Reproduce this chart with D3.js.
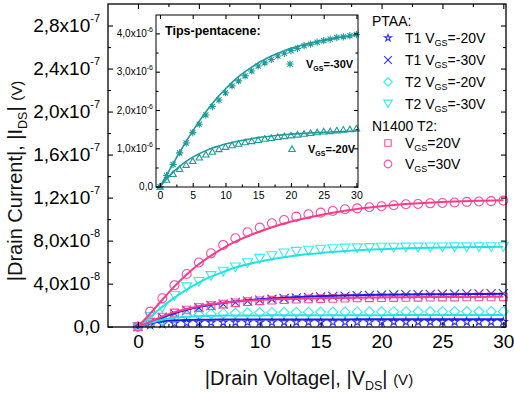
<!DOCTYPE html>
<html>
<head>
<meta charset="utf-8">
<script src="https://cdn.jsdelivr.net/npm/d3@7"></script>
<style>
  body { margin: 0; background: #fff; }
  svg { display: block; font-family: "Liberation Sans", Arial, sans-serif; }
</style>
</head>
<body>
<svg id="chart" width="514" height="396"></svg>
<script>
(() => {
  /* ---------- DATA (main: units of 1e-8 A, inset: units of 1e-6 A) ---------- */

  const VDS = [0, 1, 2, 3, 4, 5, 6, 7, 8, 9, 10, 11, 12, 13, 14, 15, 16, 17, 18, 19, 20,
    21, 22, 23, 24, 25, 26, 27, 28, 29, 30];

  const ptaaT1_20 = [0, 0.15, 0.25, 0.32, 0.36, 0.38, 0.39, 0.4, 0.4, 0.41, 0.41, 0.41, 0.42,
    0.42, 0.42, 0.42, 0.43, 0.43, 0.43, 0.43, 0.43, 0.44, 0.44, 0.44, 0.44, 0.44, 0.45, 0.45,
    0.45, 0.45, 0.45];
  const ptaaT1_30 = [0, 0.4, 0.87, 1.22, 1.52, 1.76, 1.95, 2.1, 2.25, 2.37, 2.47, 2.55, 2.62,
    2.68, 2.73, 2.78, 2.82, 2.85, 2.88, 2.91, 2.93, 2.95, 2.97, 2.99, 3.0, 3.02, 3.03, 3.05,
    3.06, 3.07, 3.08];
  const ptaaT2_20 = [0, 0.3, 0.6, 0.85, 1.0, 1.1, 1.18, 1.23, 1.27, 1.29, 1.31, 1.32, 1.33,
    1.34, 1.35, 1.36, 1.36, 1.37, 1.37, 1.38, 1.38, 1.39, 1.39, 1.4, 1.4, 1.4, 1.41, 1.41,
    1.41, 1.42, 1.42];
  const ptaaT2_30 = [0, 0.95, 1.8, 2.9, 3.7, 4.2, 4.75, 5.15, 5.55, 5.95, 6.35, 6.6, 6.85,
    7.0, 7.1, 7.2, 7.25, 7.3, 7.33, 7.35, 7.38, 7.39, 7.4, 7.4, 7.41, 7.41, 7.42, 7.42, 7.42,
    7.43, 7.43];
  const n1400_20 = [0, 0.42, 0.9, 1.28, 1.55, 1.78, 1.95, 2.1, 2.22, 2.32, 2.4, 2.46, 2.51,
    2.55, 2.58, 2.61, 2.63, 2.65, 2.67, 2.68, 2.7, 2.71, 2.72, 2.73, 2.74, 2.75, 2.75, 2.76,
    2.77, 2.77, 2.78];
  const n1400_30 = [0, 1.4, 2.64, 3.85, 4.9, 5.97, 6.82, 7.6, 8.22, 8.78, 9.21, 9.62, 9.92,
    10.23, 10.45, 10.6, 10.76, 10.92, 11.0, 11.1, 11.2, 11.29, 11.38, 11.41, 11.47, 11.5,
    11.55, 11.6, 11.64, 11.67, 11.72];

  // fitted curves
  const FIT_V = [0, 1, 2, 3, 4, 5, 6, 7, 8, 10, 12, 14, 16, 18, 20, 22, 25, 28, 30];
  const fitT1_20 = [0, 0.3, 0.5, 0.58, 0.62, 0.64, 0.65, 0.66, 0.66, 0.67, 0.67, 0.67, 0.67,
    0.68, 0.68, 0.68, 0.68, 0.68, 0.68];
  const fitT1_30 = [0, 0.4, 0.85, 1.25, 1.57, 1.83, 2.03, 2.2, 2.34, 2.55, 2.7, 2.8, 2.88,
    2.93, 2.97, 3.0, 3.02, 3.04, 3.05];
  const fitT2_20 = [0, 0.35, 0.65, 0.83, 0.93, 0.98, 1.01, 1.03, 1.04, 1.05, 1.06, 1.06,
    1.07, 1.07, 1.07, 1.08, 1.08, 1.08, 1.08];
  const fitT2_30 = [0, 0.9, 1.85, 2.7, 3.45, 4.1, 4.65, 5.1, 5.5, 6.05, 6.45, 6.75, 6.95,
    7.1, 7.2, 7.28, 7.35, 7.4, 7.42];
  const fitN_20 = [0, 0.45, 0.95, 1.35, 1.65, 1.9, 2.08, 2.22, 2.33, 2.48, 2.57, 2.63, 2.67,
    2.7, 2.72, 2.74, 2.76, 2.77, 2.78];
  const fitN_30 = [0, 1.2, 2.5, 3.75, 4.85, 5.8, 6.6, 7.3, 7.9, 8.85, 9.6, 10.15, 10.6,
    10.95, 11.2, 11.4, 11.6, 11.7, 11.75];

  // inset: Tips-pentacene
  const tips30 = [0, 0.29, 0.58, 0.88, 1.14, 1.41, 1.63, 1.87, 2.09, 2.26, 2.45, 2.63, 2.76,
    2.89, 3.02, 3.15, 3.23, 3.32, 3.41, 3.48, 3.55, 3.61, 3.68, 3.72, 3.77, 3.81, 3.85, 3.89,
    3.91, 3.94, 3.97];
  const tips20 = [0, 0.18, 0.33, 0.46, 0.57, 0.67, 0.76, 0.84, 0.91, 0.98, 1.04, 1.08, 1.12,
    1.16, 1.19, 1.22, 1.25, 1.27, 1.3, 1.32, 1.34, 1.36, 1.38, 1.4, 1.42, 1.44, 1.45, 1.47,
    1.49, 1.5, 1.52];
  const INSET_FIT_V = [0, 1, 2, 3, 4, 5, 6, 7, 8, 9, 10, 11, 12, 13, 14, 15, 16, 17, 18, 19,
    20, 22, 24, 26, 28, 30];
  const fitTips30 = [0, 0.3, 0.6, 0.9, 1.18, 1.45, 1.71, 1.95, 2.17, 2.37, 2.55, 2.72, 2.87,
    3.0, 3.12, 3.23, 3.32, 3.41, 3.48, 3.55, 3.61, 3.71, 3.79, 3.85, 3.91, 3.96];
  const fitTips20 = [0, 0.2, 0.38, 0.53, 0.66, 0.77, 0.86, 0.94, 1.01, 1.06, 1.11, 1.15, 1.19,
    1.22, 1.25, 1.28, 1.3, 1.32, 1.34, 1.355, 1.37, 1.39, 1.41, 1.425, 1.44, 1.45];

  // ticks
  const X_TICKS = [0, 5, 10, 15, 20, 25, 30];
  const X_MINOR = [2.5, 7.5, 12.5, 17.5, 22.5, 27.5];
  const Y_TICKS = [0, 4, 8, 12, 16, 20, 24, 28];
  const Y_MINOR = [2, 6, 10, 14, 18, 22, 26];
  const Y_TICK_MANT = ["0,0", "4,0x10", "8,0x10", "1,2x10", "1,6x10", "2,0x10", "2,4x10", "2,8x10"];
  const Y_TICK_EXP = ["", "-8", "-8", "-7", "-7", "-7", "-7", "-7"];
  const IY_TICKS = [0, 1, 2, 3, 4];
  const IY_MINOR = [0.5, 1.5, 2.5, 3.5];
  const IY_TICK_MANT = ["0,0", "1,0x10", "2,0x10", "3,0x10", "4,0x10"];
  const IY_TICK_EXP = ["", "-6", "-6", "-6", "-6"];

  /* ---------- SETUP ---------- */

  const svg = d3.select("#chart");
  const M = { left: 108, right: 506, top: 4, bottom: 327 };
  const I = { left: 156, right: 358, top: 15, bottom: 187 };

  const BLUE = "#2f2fff", BLUE_LINE = "#1c1ce0";
  const CYAN = "#33f0f0", CYAN_LINE = "#25e2e2";
  const PINK = "#ff4c9c", PINK_LINE = "#ff3a8a";
  const TEAL = "#1f9b9b";

  const x = d3.scaleLinear().domain([-2.46, 30.22]).range([M.left, M.right]);
  const y = d3.scaleLinear().domain([-0.03, 30.0]).range([M.bottom, M.top]);
  const xi = d3.scaleLinear().domain([-0.61, 30.24]).range([I.left, I.right]);
  const yi = d3.scaleLinear().domain([-0.01, 4.48]).range([I.bottom, I.top]);

  /* ---------- MARKERS ---------- */

  function markerPath(type, r) {
    switch (type) {
      case "star": return d3.symbol(d3.symbolStar, r * r / 0.89)();
      case "x": return `M${-r},${-r}L${r},${r}M${r},${-r}L${-r},${r}`;
      case "diamond": return `M0,${-r}L${r},0L0,${r}L${-r},0Z`;
      case "tridown": return `M${-r},${-r * 0.8}L${r},${-r * 0.8}L0,${r * 0.95}Z`;
      case "triup": return `M${-r},${r * 0.8}L${r},${r * 0.8}L0,${-r * 0.95}Z`;
      case "square": return `M${-r},${-r}H${r}V${r}H${-r}Z`;
      case "circle": return d3.symbol(d3.symbolCircle, Math.PI * r * r)();
      case "asterisk": {
        const d = r * 0.72;
        return `M${-r},0H${r}M0,${-r}V${r}M${-d},${-d}L${d},${d}M${d},${-d}L${-d},${d}`;
      }
    }
  }

  const series = [
    { vals: ptaaT1_20, fit: fitT1_20, type: "star", r: 4.2, color: BLUE, line: BLUE_LINE },
    { vals: ptaaT1_30, fit: fitT1_30, type: "x", r: 4.5, color: BLUE, line: BLUE_LINE },
    { vals: ptaaT2_20, fit: fitT2_20, type: "diamond", r: 5, color: CYAN, line: CYAN_LINE },
    { vals: ptaaT2_30, fit: fitT2_30, type: "tridown", r: 5, color: CYAN, line: CYAN_LINE },
    { vals: n1400_20, fit: fitN_20, type: "square", r: 3.8, color: PINK, line: PINK_LINE },
    { vals: n1400_30, fit: fitN_30, type: "circle", r: 4.5, color: PINK, line: PINK_LINE }
  ];

  /* ---------- MAIN DATA ---------- */

  const lineMain = d3.line()
    .x((d, i) => x(FIT_V[i]))
    .y(d => y(d))
    .curve(d3.curveMonotoneX);

  const plot = svg.append("g");

  series.forEach(s => {
    plot.append("g")
      .selectAll("path")
      .data(s.vals)
      .join("path")
      .attr("transform", (d, i) => `translate(${x(VDS[i])},${y(d)})`)
      .attr("d", markerPath(s.type, s.r))
      .attr("fill", "none")
      .attr("stroke", s.color)
      .attr("stroke-width", 1.1);
  });

  series.forEach(s => {
    plot.append("path")
      .datum(s.fit)
      .attr("d", lineMain)
      .attr("fill", "none")
      .attr("stroke", s.line)
      .attr("stroke-width", 2);
  });

  /* ---------- MAIN AXES ---------- */

  function styleAxis(sel) {
    sel.select(".domain").remove();
    sel.selectAll(".tick line").attr("stroke", "#000").attr("stroke-width", 1.1);
  }

  svg.append("g")
    .attr("transform", `translate(0,${M.bottom})`)
    .call(d3.axisBottom(x).tickValues(X_TICKS).tickSize(-5).tickPadding(8))
    .call(styleAxis)
    .call(g => g.selectAll(".tick text")
      .attr("font-size", 19).attr("fill", "#000")
      .attr("font-family", "Liberation Sans, Arial, sans-serif"));
  svg.append("g")
    .attr("transform", `translate(0,${M.bottom})`)
    .call(d3.axisBottom(x).tickValues(X_MINOR).tickSize(-3).tickFormat(""))
    .call(styleAxis);
  svg.append("g")
    .attr("transform", `translate(0,${M.top})`)
    .call(d3.axisTop(x).tickValues(X_TICKS).tickSize(-5).tickFormat(""))
    .call(styleAxis);
  svg.append("g")
    .attr("transform", `translate(0,${M.top})`)
    .call(d3.axisTop(x).tickValues(X_MINOR).tickSize(-3).tickFormat(""))
    .call(styleAxis);

  svg.append("g")
    .attr("transform", `translate(${M.left},0)`)
    .call(d3.axisLeft(y).tickValues(Y_TICKS).tickSize(-5).tickPadding(8))
    .call(styleAxis)
    .call(g => g.selectAll(".tick text")
      .attr("font-size", 19).attr("fill", "#000")
      .attr("font-family", "Liberation Sans, Arial, sans-serif")
      .each(function (d, i) {
        const t = d3.select(this).text("");
        t.append("tspan").text(Y_TICK_MANT[i]);
        if (Y_TICK_EXP[i]) {
          t.append("tspan").attr("font-size", 11).attr("dy", -10).text(Y_TICK_EXP[i]);
        }
      }));
  svg.append("g")
    .attr("transform", `translate(${M.left},0)`)
    .call(d3.axisLeft(y).tickValues(Y_MINOR).tickSize(-3).tickFormat(""))
    .call(styleAxis);
  svg.append("g")
    .attr("transform", `translate(${M.right},0)`)
    .call(d3.axisRight(y).tickValues(Y_TICKS).tickSize(-5).tickFormat(""))
    .call(styleAxis);
  svg.append("g")
    .attr("transform", `translate(${M.right},0)`)
    .call(d3.axisRight(y).tickValues(Y_MINOR).tickSize(-3).tickFormat(""))
    .call(styleAxis);

  svg.append("rect")
    .attr("x", M.left).attr("y", M.top)
    .attr("width", M.right - M.left).attr("height", M.bottom - M.top)
    .attr("fill", "none").attr("stroke", "#000").attr("stroke-width", 1.3);

  /* ---------- AXIS TITLES ---------- */

  const xTitle = svg.append("text")
    .attr("x", 309).attr("y", 385)
    .attr("text-anchor", "middle")
    .attr("font-size", 20)
    .attr("fill", "#111");
  xTitle.append("tspan").text("|Drain Voltage|, |V");
  xTitle.append("tspan").attr("font-size", 12.5).attr("dy", 5).text("DS");
  xTitle.append("tspan").attr("dy", -5).text("| ");
  xTitle.append("tspan").attr("font-size", 15).text("(V)");

  const yTitle = svg.append("text")
    .attr("transform", "translate(22,181) rotate(-90)")
    .attr("text-anchor", "middle")
    .attr("font-size", 20)
    .attr("fill", "#111");
  yTitle.append("tspan").text("|Drain Current|, |I");
  yTitle.append("tspan").attr("font-size", 12.5).attr("dy", 5).text("DS");
  yTitle.append("tspan").attr("dy", -5).text("| ");
  yTitle.append("tspan").attr("font-size", 15).text("(V)");

  /* ---------- LEGEND ---------- */

  const LEGEND_ROWS = [
    { kind: "head", text: "PTAA:", yb: 26 },
    { kind: "item", pre: "T1 V", post: "=-20V", s: series[0], yb: 43 },
    { kind: "item", pre: "T1 V", post: "=-30V", s: series[1], yb: 65 },
    { kind: "item", pre: "T2 V", post: "=-20V", s: series[2], yb: 87 },
    { kind: "item", pre: "T2 V", post: "=-30V", s: series[3], yb: 108.5 },
    { kind: "head", text: "N1400 T2:", yb: 131 },
    { kind: "item", pre: "V", post: "=20V", s: series[4], yb: 148 },
    { kind: "item", pre: "V", post: "=30V", s: series[5], yb: 169 }
  ];

  const legend = svg.append("g").attr("font-size", 14).attr("fill", "#000");
  LEGEND_ROWS.forEach(r => {
    if (r.kind === "head") {
      legend.append("text").attr("x", 372).attr("y", r.yb).text(r.text);
      return;
    }
    legend.append("path")
      .attr("transform", `translate(388,${r.yb - 5})`)
      .attr("d", markerPath(r.s.type, r.s.r * 0.85))
      .attr("fill", "none")
      .attr("stroke", r.s.color)
      .attr("stroke-width", 1.1);
    const t = legend.append("text").attr("x", 405).attr("y", r.yb);
    t.append("tspan").text(r.pre);
    t.append("tspan").attr("font-size", 9).attr("dy", 3).text("GS");
    t.append("tspan").attr("dy", -3).text(r.post);
  });

  /* ---------- INSET ---------- */

  const inset = svg.append("g");
  inset.append("rect")
    .attr("x", I.left).attr("y", I.top)
    .attr("width", I.right - I.left).attr("height", I.bottom - I.top)
    .attr("fill", "#fff");

  const lineInset = d3.line()
    .x((d, i) => xi(INSET_FIT_V[i]))
    .y(d => yi(d))
    .curve(d3.curveMonotoneX);

  [
    { vals: tips30, type: "asterisk", r: 3.6 },
    { vals: tips20, type: "triup", r: 3.2 }
  ].forEach(s => {
    inset.append("g")
      .selectAll("path")
      .data(s.vals)
      .join("path")
      .attr("transform", (d, i) => `translate(${xi(VDS[i])},${yi(d)})`)
      .attr("d", markerPath(s.type, s.r))
      .attr("fill", "none")
      .attr("stroke", TEAL)
      .attr("stroke-width", 1.1);
  });

  [fitTips30, fitTips20].forEach(f => {
    inset.append("path")
      .datum(f)
      .attr("d", lineInset)
      .attr("fill", "none")
      .attr("stroke", TEAL)
      .attr("stroke-width", 1.6);
  });

  inset.append("g")
    .attr("transform", `translate(0,${I.bottom})`)
    .call(d3.axisBottom(xi).tickValues(X_TICKS).tickSize(-4).tickPadding(5))
    .call(styleAxis)
    .call(g => g.selectAll(".tick text")
      .attr("font-size", 10.5).attr("fill", "#000")
      .attr("font-family", "Liberation Sans, Arial, sans-serif"));
  inset.append("g")
    .attr("transform", `translate(0,${I.bottom})`)
    .call(d3.axisBottom(xi).tickValues(X_MINOR).tickSize(-2.5).tickFormat(""))
    .call(styleAxis);
  inset.append("g")
    .attr("transform", `translate(0,${I.top})`)
    .call(d3.axisTop(xi).tickValues(X_TICKS).tickSize(-4).tickFormat(""))
    .call(styleAxis);
  inset.append("g")
    .attr("transform", `translate(${I.left},0)`)
    .call(d3.axisLeft(yi).tickValues(IY_TICKS).tickSize(-4).tickPadding(3))
    .call(styleAxis)
    .call(g => g.selectAll(".tick text")
      .attr("font-size", 10).attr("fill", "#000")
      .attr("font-family", "Liberation Sans, Arial, sans-serif")
      .each(function (d, i) {
        const t = d3.select(this).text("");
        t.append("tspan").text(IY_TICK_MANT[i]);
        if (IY_TICK_EXP[i]) {
          t.append("tspan").attr("font-size", 7).attr("dy", -5).text(IY_TICK_EXP[i]);
        }
      }));
  inset.append("g")
    .attr("transform", `translate(${I.left},0)`)
    .call(d3.axisLeft(yi).tickValues(IY_MINOR).tickSize(-2.5).tickFormat(""))
    .call(styleAxis);
  inset.append("g")
    .attr("transform", `translate(${I.right},0)`)
    .call(d3.axisRight(yi).tickValues(IY_TICKS).tickSize(-4).tickFormat(""))
    .call(styleAxis);
  inset.append("g")
    .attr("transform", `translate(${I.right},0)`)
    .call(d3.axisRight(yi).tickValues(IY_MINOR).tickSize(-2.5).tickFormat(""))
    .call(styleAxis);

  inset.append("rect")
    .attr("x", I.left).attr("y", I.top)
    .attr("width", I.right - I.left).attr("height", I.bottom - I.top)
    .attr("fill", "none").attr("stroke", "#000").attr("stroke-width", 1);

  inset.append("text")
    .attr("x", 165).attr("y", 35)
    .attr("font-size", 12.5).attr("font-weight", "bold")
    .text("Tips-pentacene:");

  [
    { type: "asterisk", r: 3.6, mx: 290, yb: 68, text: "=-30V" },
    { type: "triup", r: 3.2, mx: 292, yb: 153, text: "=-20V" }
  ].forEach(l => {
    inset.append("path")
      .attr("transform", `translate(${l.mx},${l.yb - 4})`)
      .attr("d", markerPath(l.type, l.r))
      .attr("fill", "none").attr("stroke", TEAL).attr("stroke-width", 1.1);
    const t = inset.append("text")
      .attr("x", l.mx + 16).attr("y", l.yb)
      .attr("font-size", 11).attr("font-weight", "bold");
    t.append("tspan").text("V");
    t.append("tspan").attr("font-size", 7).attr("dy", 3).text("GS");
    t.append("tspan").attr("dy", -3).text(l.text);
  });
})();
</script>
</body>
</html>
